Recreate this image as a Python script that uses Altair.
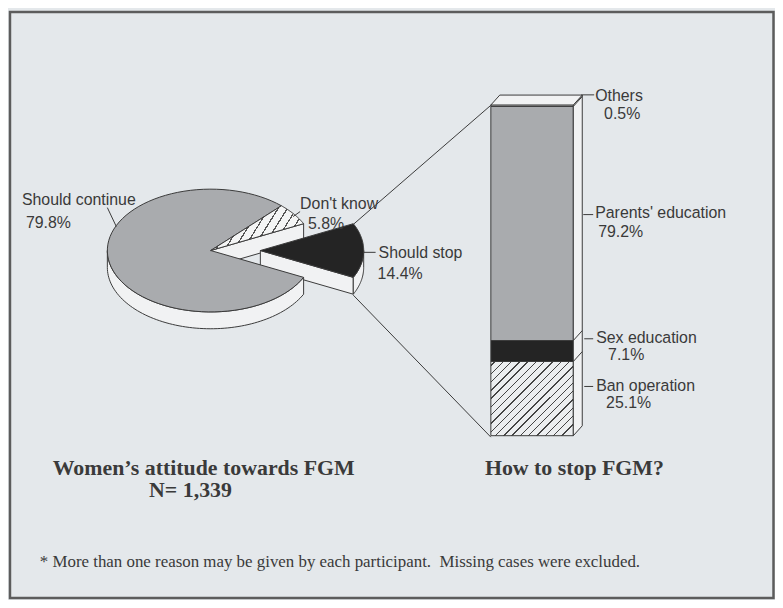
import numpy as np
import pandas as pd
import altair as alt

# ---------------- data ----------------
pie_labels = ["Should continue", "Don't know", "Should stop"]
pie_pct = [79.8, 5.8, 14.4]
bar_labels = ["Ban operation", "Sex education", "Parents' education", "Others"]
bar_pct = [25.1, 7.1, 79.2, 0.5]
left_title = "Women\u2019s attitude towards FGM"
sample_text = "N= 1,339"
right_title = "How to stop FGM?"
footnote = "* More than one reason may be given by each participant.\u00a0 Missing cases were excluded."

# ---------------- layout / style (page pixels) ----------------
W, H = 772, 592
X0, Y0 = 8, 8
BG = "#e4e8eb"
INK = "#3a3a3a"
TEXT = "#3a3a3a"
GRAY = "#a9abae"
BLACK = "#242424"
FACE = "#f1f2f3"
SANS = "Liberation Sans"
SERIF = "Liberation Serif"

CX, CY = 212, 250
RX, RY, DEPTH = 104, 62, 17
EXPLODE = 50
BAR_L, BAR_R = 494, 577
BAR_TOP, BAR_BOT = 103, 437
OFF_X, OFF_Y = 9, 10

XS = alt.Scale(domain=[X0, X0 + W], nice=False, zero=False)
YS = alt.Scale(domain=[Y0, Y0 + H], reverse=True, nice=False, zero=False)

total_bar = sum(bar_pct)
k = (BAR_BOT - BAR_TOP) / total_bar
BYS = alt.Scale(domain=[(BAR_BOT - (Y0 + H)) / k, (BAR_BOT - Y0) / k], nice=False, zero=False)
off_u = OFF_Y / k


def ell(cx, cy, deg):
    r = np.deg2rad(deg)
    return cx + RX * np.cos(r), cy - RY * np.sin(r)


def arc(cx, cy, a, b, n=80):
    return [ell(cx, cy, d) for d in np.linspace(a, b, n)]


def stripes(n, x1, y1, x2, y2, light, dark, frac=0.18):
    stops = []
    for j in range(n):
        a = j / n
        m0 = (j + 0.5 - frac / 2) / n
        m1 = (j + 0.5 + frac / 2) / n
        c = (j + 1) / n
        stops += [alt.GradientStop(offset=a, color=light), alt.GradientStop(offset=m0, color=light),
                  alt.GradientStop(offset=m0, color=dark), alt.GradientStop(offset=m1, color=dark),
                  alt.GradientStop(offset=m1, color=light), alt.GradientStop(offset=c, color=light)]
    return alt.LinearGradient(gradient="linear", stops=stops, x1=x1, y1=y1, x2=x2, y2=y2)


def poly(pts, fill, scale_y=YS, sw=1.0):
    df = pd.DataFrame({"x": [p[0] for p in pts], "y": [p[1] for p in pts], "i": range(len(pts))})
    return alt.Chart(df).mark_line(fill=fill, stroke=INK, strokeWidth=sw, interpolate="linear-closed",
                                   strokeJoin="round").encode(
        x=alt.X("x:Q", scale=XS, axis=None),
        y=alt.Y("y:Q", scale=scale_y, axis=None),
        order="i:Q")


def seg(x1, y1, x2, y2, sw=1.0):
    return alt.Chart(alt.Data(values=[{}])).mark_rule(color=INK, strokeWidth=sw).encode(
        x=alt.value(x1 - X0), x2=alt.value(x2 - X0), y=alt.value(y1 - Y0), y2=alt.value(y2 - Y0))


def texts(rows, font, size, weight="normal"):
    df = pd.DataFrame(rows, columns=["t", "x", "y"])
    return alt.Chart(df).mark_text(align="left", baseline="middle", font=font, fontSize=size,
                                   fontWeight=weight, color=TEXT).encode(
        x=alt.X("x:Q", scale=XS, axis=None), y=alt.Y("y:Q", scale=YS, axis=None), text="t:N")


# ---------------- pie geometry from the percentages ----------------
tot = sum(pie_pct)
deg = [p * 360.0 / tot for p in pie_pct]
a_ss0 = -deg[2] / 2
a_ss1 = a_ss0 + deg[2]
a_dk1 = a_ss1 + deg[1]
a_ct1 = a_dk1 + deg[0]
mid = np.deg2rad((a_ss0 + a_ss1) / 2)
SX, SY = CX + EXPLODE * np.cos(mid), CY - EXPLODE * np.sin(mid) * RY / RX


def down(pts):
    return [(x, y + DEPTH) for x, y in pts]


cont_top = [(CX, CY)] + arc(CX, CY, a_dk1, a_ct1)
top_arc = arc(CX, CY, 180, a_ct1)
cont_side = top_arc + down(top_arc)[::-1]
dk_top = [(CX, CY)] + arc(CX, CY, a_ss1, a_dk1, 30)
p = ell(CX, CY, a_ss1)
dk_cut = [(CX, CY), p, (p[0], p[1] + DEPTH), (CX, CY + DEPTH)]
ss_top = [(SX, SY)] + arc(SX, SY, a_ss0, a_ss1, 50)
q = ell(SX, SY, a_ss0)
ss_cut = [(SX, SY), q, (q[0], q[1] + DEPTH), (SX, SY + DEPTH)]
s_arc = arc(SX, SY, a_ss0, 0, 30)
ss_side = s_arc + down(s_arc)[::-1]

layers = []
# frame
layers.append(alt.Chart(alt.Data(values=[{}])).mark_rect(fill=None, stroke="#5c5c5c", strokeWidth=2.5).encode(
    x=alt.value(2), x2=alt.value(W - 1.5), y=alt.value(1), y2=alt.value(H - 1)))

layers += [poly(dk_cut, FACE), poly(ss_cut, FACE), poly(ss_side, FACE), poly(cont_side, FACE),
           poly(cont_top, GRAY),
           poly(dk_top, stripes(11, 0, 0, 1, 0.3, "#f4f5f5", "#555555", 0.16)),
           poly(ss_top, BLACK)]

# connectors from exploded slice to the bar
top_pt = ell(SX, SY, a_ss1)
bot_pt = ell(SX, SY, a_ss0)
layers.append(seg(top_pt[0], top_pt[1], BAR_L, BAR_TOP))
layers.append(seg(bot_pt[0], bot_pt[1] + DEPTH, BAR_L, BAR_BOT))

# ---------------- stacked bar ----------------
bar_df = pd.DataFrame({"cat": bar_labels, "pct": bar_pct, "ord": range(len(bar_labels))})
base = alt.Chart(bar_df).transform_stack(stack="pct", as_=["y0", "y1"], groupby=[],
                                         sort=[alt.SortField("ord", order="ascending")])
seg_fill = {
    "Ban operation": stripes(18, 0, 0, 1, 0.9, "#eceef0", "#444444", 0.17),
    "Sex education": BLACK,
    "Parents' education": GRAY,
    "Others": "#f4f5f5",
}
for c in bar_labels:
    layers.append(base.transform_filter(alt.datum.cat == c).mark_rect(
        fill=seg_fill[c], stroke=INK, strokeWidth=1).encode(
        x=alt.value(BAR_L - X0), x2=alt.value(BAR_R - X0),
        y=alt.Y("y0:Q", scale=BYS, axis=None), y2="y1:Q"))

# 3-D faces of the bar
side_df = pd.DataFrame({"x": [BAR_R, BAR_R + OFF_X, BAR_R + OFF_X, BAR_R],
                        "y": [0, off_u, total_bar + off_u, total_bar]})
top_df = pd.DataFrame({"x": [BAR_L, BAR_L + OFF_X, BAR_R + OFF_X, BAR_R],
                       "y": [total_bar, total_bar + off_u, total_bar + off_u, total_bar]})
for fdf in (side_df, top_df):
    fdf["i"] = range(len(fdf))
    layers.append(alt.Chart(fdf).mark_line(fill=FACE, stroke=INK, strokeWidth=1,
                                           interpolate="linear-closed").encode(
        x=alt.X("x:Q", scale=XS, axis=None), y=alt.Y("y:Q", scale=BYS, axis=None), order="i:Q"))
# segment boundaries on the side face
layers.append(base.transform_filter(alt.datum.ord < len(bar_labels) - 1)
              .transform_calculate(y1o=alt.datum.y1 + off_u)
              .mark_rule(color=INK, strokeWidth=1).encode(
    x=alt.value(BAR_R - X0), x2=alt.value(BAR_R + OFF_X - X0),
    y=alt.Y("y1:Q", scale=BYS, axis=None), y2="y1o:Q"))

# leader ticks
for a in [(108, 206, 117, 225), (295, 215, 302, 210), (366, 251, 378, 251),
          (585, 92.5, 598, 92.5), (587, 213, 597, 213), (588, 338, 597, 338), (588, 386, 597, 386)]:
    layers.append(seg(*a))

# ---------------- texts ----------------
pct = lambda v: f"{v}%"
label_rows = [
    (pie_labels[0], 22, 199.5), (pct(pie_pct[0]), 26, 222),
    (pie_labels[1], 302, 203.5), (pct(pie_pct[1]), 310, 223),
    (pie_labels[2], 381, 252.5), (pct(pie_pct[2]), 380, 274),
    (bar_labels[3], 599, 93.5), (pct(bar_pct[3]), 608, 112.5),
    (bar_labels[2], 599, 212.5), (pct(bar_pct[2]), 602, 231.5),
    (bar_labels[1], 600, 338.5), (pct(bar_pct[1]), 612, 356),
    (bar_labels[0], 600, 386.5), (pct(bar_pct[0]), 610, 404),
]
layers.append(texts(label_rows, SANS, 16))
layers.append(texts([(left_title, 53, 470), (sample_text, 150, 492), (right_title, 488, 470)],
                    SERIF, 22, "bold"))
layers.append(texts([(footnote, 40, 565)], SERIF, 17))

chart = alt.layer(*layers).resolve_scale(x="independent", y="independent").properties(
    width=W, height=H, background=BG, padding=0,
    autosize=alt.AutoSizeParams(type="fit", contains="padding"),
).configure_view(stroke=None)

chart.save("out.html", embed_options={"renderer": "svg", "actions": False})
